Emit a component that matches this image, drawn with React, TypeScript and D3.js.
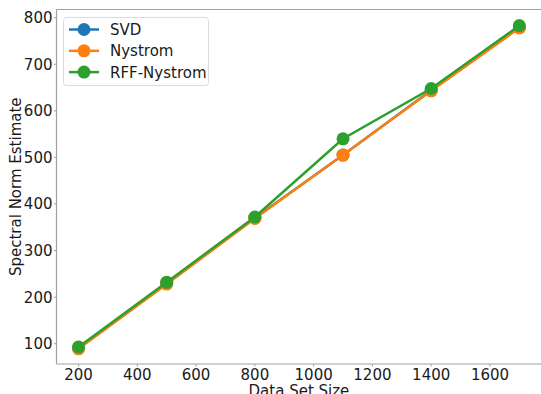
import React from "react";
import * as d3 from "d3";

const sizes = [200, 500, 800, 1100, 1400, 1700];
const svdValues = [90, 229, 370, 505, 644, 779];
const nystromValues = [89, 228, 369, 505, 643, 778];
const rffValues = [93, 232, 372, 540, 648, 783];
const xTicks = [200, 400, 600, 800, 1000, 1200, 1400, 1600];
const yTicks = [100, 200, 300, 400, 500, 600, 700, 800];
const seriesNames = ["SVD", "Nystrom", "RFF-Nystrom"];
const seriesColors = ["#1f77b4", "#ff7f0e", "#2ca02c"];

const W = 541;
const H = 394;
const L = 56.5, R = 541.4, T = 9.5, B = 364;

export default function App() {
  const x = d3.scaleLinear().domain([125, 1775]).range([L, R]);
  const y = d3.scaleLinear().domain([56.4, 817.6]).range([B, T]);
  const series = [svdValues, nystromValues, rffValues];
  const line = d3
    .line<number>()
    .x((_, i) => x(sizes[i]))
    .y((d) => y(d));
  const font = "DejaVu Sans, sans-serif";
  const fs = 15;
  return (
    <svg
      width={W}
      height={H}
      style={{ position: "absolute", left: 0, top: 0, fontFamily: font }}
    >
      <rect x={0} y={0} width={W} height={H} fill="#fff" />
      {/* spines */}
      <line x1={L} x2={L} y1={T} y2={B} stroke="#a0a0a0" strokeWidth={1.2} />
      <line x1={L} x2={R} y1={B} y2={B} stroke="#a0a0a0" strokeWidth={1.2} />
      <line x1={L} x2={R} y1={T} y2={T} stroke="#a0a0a0" strokeWidth={1.2} />
      {/* x ticks */}
      {xTicks.map((t) => (
        <g key={"x" + t}>
          <line x1={x(t)} x2={x(t)} y1={B} y2={B + 2.5} stroke="#a0a0a0" strokeWidth={1} />
          <text x={x(t)} y={B + 15.5} fontSize={fs} textAnchor="middle" fill="#1a1a1a">
            {t}
          </text>
        </g>
      ))}
      {/* y ticks */}
      {yTicks.map((t) => (
        <g key={"y" + t}>
          <line x1={L - 2.5} x2={L} y1={y(t)} y2={y(t)} stroke="#a0a0a0" strokeWidth={1} />
          <text x={L - 4} y={y(t) + 5.5} fontSize={fs} textAnchor="end" fill="#1a1a1a">
            {t}
          </text>
        </g>
      ))}
      <text x={(L + R) / 2} y={B + 32} fontSize={fs} textAnchor="middle" fill="#1a1a1a">
        Data Set Size
      </text>
      <text
        transform={`translate(${20.5},${(T + B) / 2}) rotate(-90)`}
        fontSize={fs}
        textAnchor="middle"
        fill="#1a1a1a"
      >
        Spectral Norm Estimate
      </text>
      {/* series */}
      {series.map((vals, si) => (
        <g key={"s" + si}>
          <path d={line(vals) || ""} fill="none" stroke={seriesColors[si]} strokeWidth={2.5} />
          {vals.map((v, i) => (
            <circle key={i} cx={x(sizes[i])} cy={y(v)} r={6.5} fill={seriesColors[si]} />
          ))}
        </g>
      ))}
      {/* legend */}
      <rect x={63.5} y={17.5} width={145} height={68} rx={3} fill="#fff" fillOpacity={0.8} stroke="#dcdcdc" strokeWidth={1} />
      {seriesNames.map((n, i) => {
        const ly = 29.5 + i * 21.3;
        return (
          <g key={"l" + i}>
            <line x1={69} x2={99} y1={ly} y2={ly} stroke={seriesColors[i]} strokeWidth={2.5} />
            <circle cx={84} cy={ly} r={6.5} fill={seriesColors[i]} />
            <text x={110} y={ly + 5.5} fontSize={fs} fill="#1a1a1a">
              {n}
            </text>
          </g>
        );
      })}
    </svg>
  );
}
